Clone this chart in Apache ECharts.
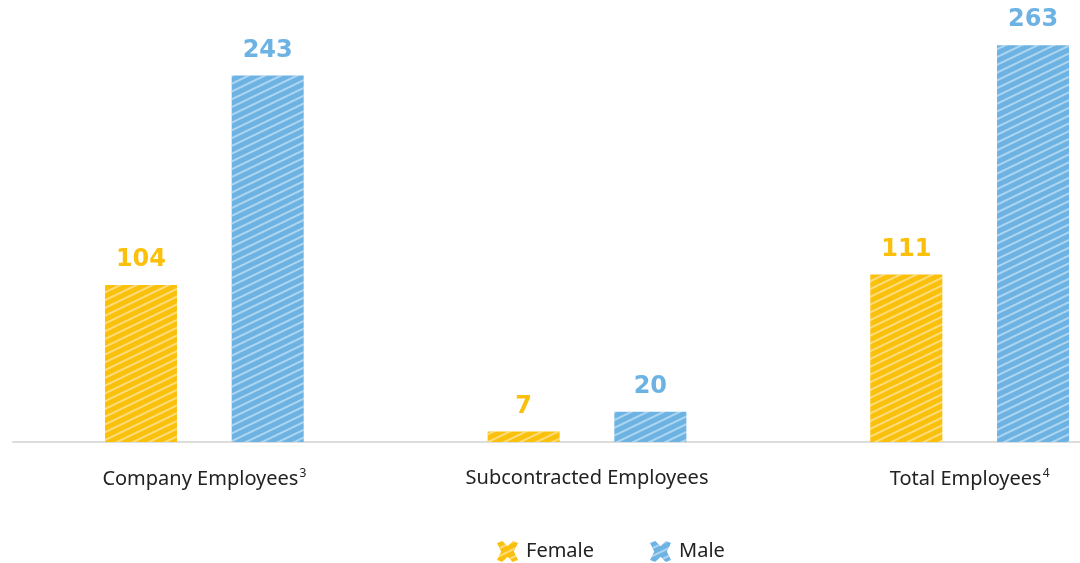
<!DOCTYPE html>
<html>
<head>
<meta charset="utf-8">
<script src="https://cdn.jsdelivr.net/npm/echarts@6/dist/echarts.min.js"></script>
<style>
  html, body { margin: 0; padding: 0; background: #fff; }
  #chart { width: 1080px; height: 563px; }
</style>
</head>
<body>
<div id="chart"></div>
<script>
// Headcount by gender and employment type
const categories = ['Company Employees', 'Subcontracted Employees', 'Total Employees'];
const footnotes = ['3', '', '4'];
const femaleValues = [104, 7, 111];
const maleValues = [243, 20, 263];

const YELLOW = '#FBC00C';
const BLUE = '#6CB3E3';

// Diagonal white streaks give the bars a pencil-hatched look
function hatch() {
  return {
    symbol: 'rect',
    symbolSize: 1,
    color: 'rgba(255,255,255,0.45)',
    dashArrayX: [1, 0],
    dashArrayY: [1.5, 4.5],
    rotation: -Math.PI / 7
  };
}

const scribbleIcon = 'path://M0,2 L5,0 L10,5 L15,0 L20,2 L16,10 L20,18 L15,20 L10,15 L5,20 L0,18 L4,10 Z';

const chart = echarts.init(document.getElementById('chart'), null, { renderer: 'canvas' });

function makeSeries(name, values, color) {
  return {
    name: name,
    type: 'bar',
    data: values,
    barWidth: 72,
    barGap: '76%',
    itemStyle: { color: color, decal: hatch() },
    label: {
      show: true,
      position: 'top',
      distance: 13,
      color: color,
      fontFamily: 'DejaVu Sans',
      fontWeight: 'bold',
      fontSize: 24
    }
  };
}

chart.setOption({
  animation: false,
  backgroundColor: '#ffffff',
  grid: { left: 13, top: 0, width: 1148, bottom: 121, containLabel: false, outerBoundsMode: 'none' },
  xAxis: {
    type: 'category',
    data: categories,
    axisLine: { show: true, lineStyle: { color: '#dcdcdc', width: 2 } },
    axisTick: { show: false },
    axisLabel: {
      margin: 26,
      color: '#222',
      fontFamily: 'Noto Sans',
      fontSize: 20,
      formatter: function (v, i) {
        return footnotes[i] ? v + '{sup|' + footnotes[i] + '}' : v;
      },
      rich: {
        sup: { fontSize: 12, color: '#222', fontFamily: 'Noto Sans', padding: [0, 0, 10, 1] }
      }
    }
  },
  yAxis: {
    type: 'value',
    min: 0,
    max: 293,
    show: false,
    splitLine: { show: false }
  },
  legend: {
    left: 492,
    top: 536,
    itemWidth: 23,
    itemHeight: 21,
    itemGap: 56,
    icon: scribbleIcon,
    textStyle: { color: '#222', fontFamily: 'Noto Sans', fontSize: 20, padding: [0, 0, 0, 2] },
    data: ['Female', 'Male']
  },
  series: [
    makeSeries('Female', femaleValues, YELLOW),
    makeSeries('Male', maleValues, BLUE)
  ]
});
</script>
</body>
</html>
